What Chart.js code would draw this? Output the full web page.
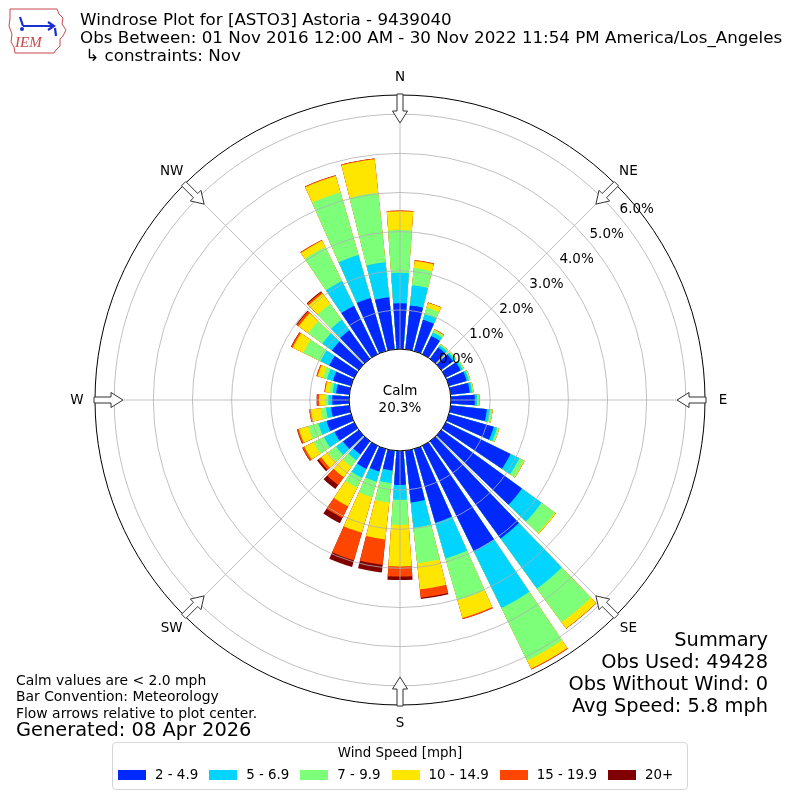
<!DOCTYPE html>
<html>
<head>
<meta charset="utf-8">
<title>Windrose Plot for [ASTO3] Astoria - 9439040</title>
<script src="https://cdn.jsdelivr.net/npm/chart.js@4.4.1/dist/chart.umd.min.js"></script>
<style>
  body { margin: 0; background: #fff; font-family: "DejaVu Sans", sans-serif; color: #000; }
  #wrap { position: relative; width: 800px; height: 800px; overflow: hidden; }
  #rose { position: absolute; left: 0; top: 0; }
  .txt { position: absolute; white-space: nowrap; }
  .title { left: 80px; font-size: 16.7px; line-height: 18px; }
  .note { left: 16px; font-size: 13.9px; line-height: 16.5px; }
  .summary { right: 32px; font-size: 19.4px; line-height: 22px; text-align: right; }
  #legend { position: absolute; left: 112px; top: 742px; width: 574px; height: 46px;
            border: 1px solid #d5d5d5; border-radius: 4px; font-size: 13.4px; }
  #legend .lt { position: absolute; top: 2px; width: 100%; text-align: center; line-height: 16px; }
  #items { position: absolute; left: 5px; top: 24px; display: flex; align-items: center; line-height: 16px; }
  .item { display: flex; align-items: center; margin-right: 11px; }
  .patch { width: 28px; height: 10px; margin-right: 9px; }
</style>
</head>
<body>
<div id="wrap">
  <canvas id="rose" width="800" height="800"></canvas>

  <svg class="txt" style="left:6px;top:6px" width="64" height="48" viewBox="0 0 64 48">
    <path d="M4 3 L51 3 L53 8 L57 12 L56 18 L60 24 L57 30 L54 33 L54 40 L50 44 L48 47 L9 47 L8 41 L5 36 L6 28 L3 20 L4 12 Z"
          fill="none" stroke="#c8494b" stroke-width="1"/>
    <path d="M17 20 L46 20 M42 16 L48 20 L42 24 M14 11 L17 20 M49 22 L50 30" stroke="#1a2fcf" stroke-width="2.2" fill="none"/>
    <circle cx="16" cy="23" r="2" fill="#1a2fcf"/>
    <text x="9" y="41" font-family="Liberation Serif, serif" font-style="italic" font-size="15" fill="#c8494b">IEM</text>
  </svg>

  <div class="txt title" style="top:10px">Windrose Plot for [ASTO3] Astoria - 9439040</div>
  <div class="txt title" style="top:28px">Obs Between: 01 Nov 2016 12:00 AM - 30 Nov 2022 11:54 PM America/Los_Angeles</div>
  <div class="txt title" style="top:46px">&nbsp;↳ constraints: Nov</div>

  <div class="txt note" style="top:672px">Calm values are &lt; 2.0 mph</div>
  <div class="txt note" style="top:688px">Bar Convention: Meteorology</div>
  <div class="txt note" style="top:705px">Flow arrows relative to plot center.</div>
  <div class="txt" style="left:16px;top:719px;font-size:19.4px;line-height:22px">Generated: 08 Apr 2026</div>

  <div class="txt summary" style="top:629px">Summary<br>Obs Used: 49428<br>Obs Without Wind: 0<br>Avg Speed: 5.8 mph</div>

  <div id="legend"><div class="lt">Wind Speed [mph]</div><div id="items"></div></div>
</div>

<script>
// wind directions (degrees, where the wind blows from)
const directions = [0, 10, 20, 30, 40, 50, 60, 70, 80, 90, 100, 110, 120, 130, 140, 150, 160, 170,
  180, 190, 200, 210, 220, 230, 240, 250, 260, 270, 280, 290, 300, 310, 320, 330, 340, 350];

const speedBins = ["2 - 4.9", "5 - 6.9", "7 - 9.9", "10 - 14.9", "15 - 19.9", "20+"];
const binColors = ["#0028ff", "#00d4ff", "#7dff7a", "#ffe600", "#ff4600", "#800000"];

// percent of observations per direction, one array per speed bin
const spd2to5 = [1.17, 1.13, 0.83, 0.52, 0.36, 0.38, 0.42, 0.47, 0.49, 0.61, 0.93, 1.19, 1.84, 2.55, 3.07, 3.00, 1.96, 1.33,
  0.87, 0.51, 0.60, 0.66, 0.42, 0.50, 0.56, 0.65, 0.47, 0.43, 0.34, 0.48, 0.71, 0.85, 0.90, 1.38, 1.41, 1.34];
const spd5to7 = [0.78, 0.52, 0.15, 0.10, 0.07, 0.06, 0.06, 0.06, 0.06, 0.06, 0.08, 0.09, 0.25, 0.62, 1.58, 1.61, 0.95, 0.65,
  0.38, 0.32, 0.27, 0.25, 0.18, 0.22, 0.30, 0.22, 0.13, 0.10, 0.09, 0.16, 0.25, 0.30, 0.33, 0.70, 1.14, 0.90];
const spd7to10 = [1.09, 0.44, 0.18, 0.06, 0.03, 0.03, 0.03, 0.03, 0.03, 0.05, 0.06, 0.05, 0.13, 0.42, 1.07, 1.49, 1.11, 0.91,
  0.64, 0.50, 0.41, 0.28, 0.21, 0.25, 0.29, 0.27, 0.13, 0.08, 0.08, 0.11, 0.49, 0.45, 0.50, 0.97, 1.67, 1.78];
const spd10to15 = [0.48, 0.18, 0.12, 0.02, 0.01, 0.01, 0.01, 0.01, 0.01, 0.01, 0.01, 0.01, 0.02, 0.03, 0.19, 0.24, 0.47, 0.67,
  1.06, 0.95, 0.95, 0.53, 0.33, 0.22, 0.27, 0.25, 0.26, 0.16, 0.11, 0.14, 0.30, 0.30, 0.33, 0.18, 0.43, 0.86];
const spd15to20 = [0.02, 0.02, 0.01, 0.01, 0, 0, 0, 0, 0, 0, 0, 0, 0, 0, 0.01, 0.02, 0.03, 0.22,
  0.26, 0.65, 0.73, 0.33, 0.24, 0.08, 0.05, 0.04, 0.04, 0.05, 0.02, 0.03, 0.04, 0.06, 0.05, 0.02, 0.02, 0.02];
const spd20up = [0, 0, 0, 0, 0, 0, 0, 0, 0, 0, 0, 0, 0, 0, 0, 0, 0, 0.03,
  0.09, 0.20, 0.18, 0.15, 0.13, 0.05, 0.01, 0.01, 0, 0.01, 0, 0, 0.01, 0.02, 0.02, 0, 0, 0];

const calmPct = 20.3;
const rTicks = [0, 1, 2, 3, 4, 5, 6];
const compassNames = ["N", "NE", "E", "SE", "S", "SW", "W", "NW"];

const R_MIN = -1.3;   // room for the calm circle in the middle
const R_MAX = 6.49;
const BAR_DEG = 8;
const GAP_DEG = 2;

const binSeries = [spd2to5, spd5to7, spd7to10, spd10to15, spd15to20, spd20up];

// polarArea does not stack, so each dataset is the running total and
// the smaller totals are drawn on top of the bigger ones.
// every direction gets a bar slot and a small empty gap slot after it.
const labels = [];
directions.forEach((d) => labels.push(d + "°", ""));

const datasets = speedBins.map((name, k) => {
  const data = [];
  directions.forEach((d, i) => {
    let total = 0;
    for (let j = 0; j <= k; j++) total += binSeries[j][i];
    data.push(+total.toFixed(2), R_MIN);
  });
  return {
    label: name,
    data: data,
    backgroundColor: binColors[k],
    borderWidth: 0,
    angle: (ctx) => (ctx.dataIndex % 2 === 0 ? BAR_DEG : GAP_DEG),
  };
});

const toXY = (s, r, deg) => {
  const t = (deg * Math.PI) / 180;
  return [s.xCenter + r * Math.sin(t), s.yCenter - r * Math.cos(t)];
};

const roseDecor = {
  id: "roseDecor",
  afterDatasetsDraw(chart) {
    const s = chart.scales.r;
    const ctx = chart.ctx;
    const r0 = s.getDistanceFromCenterForValue(0);
    ctx.save();
    ctx.strokeStyle = "#b0b0b0";
    ctx.lineWidth = 0.8;
    for (let a = 0; a < 360; a += 45) {
      ctx.beginPath();
      ctx.moveTo(...toXY(s, r0, a));
      ctx.lineTo(...toXY(s, s.drawingArea, a));
      ctx.stroke();
    }
    ctx.restore();
  },
  afterDraw(chart) {
    const s = chart.scales.r;
    const ctx = chart.ctx;
    const r0 = s.getDistanceFromCenterForValue(0);
    ctx.save();

    // outer frame
    ctx.strokeStyle = "#000";
    ctx.lineWidth = 1;
    ctx.beginPath();
    ctx.arc(s.xCenter, s.yCenter, s.drawingArea, 0, Math.PI * 2);
    ctx.stroke();

    // calm circle
    ctx.fillStyle = "#fff";
    ctx.beginPath();
    ctx.arc(s.xCenter, s.yCenter, r0, 0, Math.PI * 2);
    ctx.fill();
    ctx.stroke();
    ctx.fillStyle = "#000";
    ctx.font = '13.5px "DejaVu Sans"';
    ctx.textAlign = "center";
    ctx.textBaseline = "middle";
    ctx.fillText("Calm", s.xCenter, s.yCenter - 9);
    ctx.fillText(calmPct.toFixed(1) + "%", s.xCenter, s.yCenter + 8);

    // radial tick labels
    ctx.textAlign = "left";
    rTicks.forEach((v) => {
      const [x, y] = toXY(s, s.getDistanceFromCenterForValue(v), 50.2);
      ctx.fillText(v.toFixed(1) + "%", x, y - 8);
    });

    // compass labels and flow arrows
    compassNames.forEach((name, i) => {
      const a = i * 45;
      ctx.textAlign = "center";
      ctx.fillStyle = "#000";
      ctx.fillText(name, ...toXY(s, s.drawingArea + 18, a));

      const t = (a * Math.PI) / 180;
      const pts = [[277, 0], [289, 7.5], [289, 3], [306, 3], [306, -3], [289, -3], [289, -7.5]];
      ctx.beginPath();
      pts.forEach(([u, w], j) => {
        const x = s.xCenter + u * Math.sin(t) + w * Math.cos(t);
        const y = s.yCenter - u * Math.cos(t) + w * Math.sin(t);
        if (j === 0) ctx.moveTo(x, y);
        else ctx.lineTo(x, y);
      });
      ctx.closePath();
      ctx.fillStyle = "#fff";
      ctx.fill();
      ctx.strokeStyle = "#333";
      ctx.lineWidth = 1;
      ctx.stroke();
    });
    ctx.restore();
  },
};

new Chart(document.getElementById("rose"), {
  type: "polarArea",
  data: { labels: labels, datasets: datasets },
  options: {
    responsive: false,
    animation: false,
    events: [],
    layout: { padding: 95 },
    plugins: { legend: { display: false }, tooltip: { enabled: false } },
    scales: {
      r: {
        min: R_MIN,
        max: R_MAX,
        startAngle: -BAR_DEG / 2,
        afterBuildTicks: (scale) => {
          scale.ticks = rTicks.map((v) => ({ value: v }));
        },
        grid: { circular: true, color: "#b0b0b0", lineWidth: 0.8, z: 1 },
        angleLines: { display: false },
        pointLabels: { display: false },
        ticks: { display: false },
      },
    },
  },
  plugins: [roseDecor],
});

// legend below the rose
const items = document.getElementById("items");
speedBins.forEach((name, k) => {
  items.insertAdjacentHTML(
    "beforeend",
    `<div class="item"><div class="patch" style="background:${binColors[k]}"></div>${name}</div>`
  );
});
</script>
</body>
</html>
